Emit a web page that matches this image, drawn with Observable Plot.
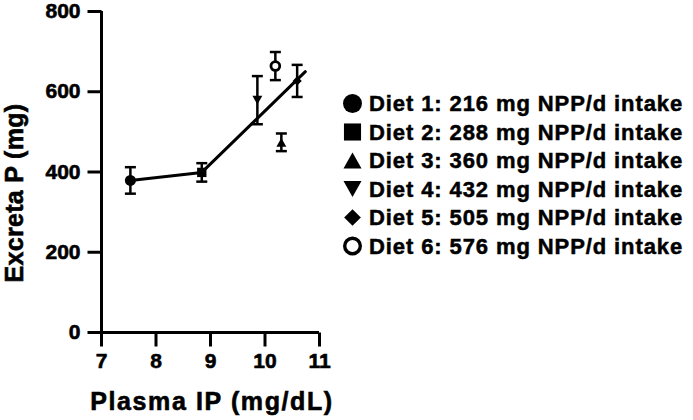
<!DOCTYPE html>
<html>
<head>
<meta charset="utf-8">
<script src="https://cdn.jsdelivr.net/npm/d3@7"></script>
<script src="https://cdn.jsdelivr.net/npm/@observablehq/plot@0.6"></script>
<style>
  html, body { margin: 0; padding: 0; background: #fff; }
  #chart { position: relative; width: 693px; height: 420px; }
</style>
</head>
<body>
<div id="chart"></div>
<script>
// ---- data ----
const dietLabels = [
  "Diet 1: 216 mg NPP/d intake",
  "Diet 2: 288 mg NPP/d intake",
  "Diet 3: 360 mg NPP/d intake",
  "Diet 4: 432 mg NPP/d intake",
  "Diet 5: 505 mg NPP/d intake",
  "Diet 6: 576 mg NPP/d intake"
];
const dietShapes = ["circle", "square", "triangleUp", "triangleDown", "diamond", "openCircle"];
const plasmaIP = [7.53, 8.84, 10.30, 9.86, 10.59, 10.19];
const excretaP = [379, 399, 474, 579, 627, 664];
const excretaSEM = [33, 23, 22, 60, 40, 35];

const fitX = [7.53, 8.84, 10.74];
const fitY = [379, 399, 650];

const xTicks = [7, 8, 9, 10, 11];
const yTicks = [0, 200, 400, 600, 800];

const FONT = "'Liberation Sans', Arial, Helvetica, sans-serif";

// ---- custom symbols ----
const rOf = size => Math.sqrt(size / Math.PI);
const symbols = {
  circle: { draw(ctx, size) { const r = rOf(size); ctx.moveTo(r, 0); ctx.arc(0, 0, r, 0, 2 * Math.PI); } },
  openCircle: { draw(ctx, size) { const r = rOf(size); ctx.moveTo(r, 0); ctx.arc(0, 0, r, 0, 2 * Math.PI); } },
  square: { draw(ctx, size) { const r = rOf(size) * 0.9; ctx.rect(-r, -r, 2 * r, 2 * r); } },
  triangleUp: { draw(ctx, size) { const r = rOf(size); const w = 0.95 * r, h = 0.85 * r; ctx.moveTo(0, -h); ctx.lineTo(w, h); ctx.lineTo(-w, h); ctx.closePath(); } },
  triangleDown: { draw(ctx, size) { const r = rOf(size); const w = 0.95 * r, h = 0.85 * r; ctx.moveTo(0, h); ctx.lineTo(w, -h); ctx.lineTo(-w, -h); ctx.closePath(); } },
  diamond: { draw(ctx, size) { const r = rOf(size) * 0.88; ctx.moveTo(0, -r); ctx.lineTo(r, 0); ctx.lineTo(0, r); ctx.lineTo(-r, 0); ctx.closePath(); } },
  hline: { draw(ctx, size) { const r = rOf(size); ctx.moveTo(-r, 0); ctx.lineTo(r, 0); } },
  tickDown: { draw(ctx, size) { const r = rOf(size); ctx.moveTo(0, 0); ctx.lineTo(0, r); } },
  tickLeft: { draw(ctx, size) { const r = rOf(size); ctx.moveTo(0, 0); ctx.lineTo(-r, 0); } }
};

const rows = dietLabels.map((label, i) => ({
  label, shape: dietShapes[i], ip: plasmaIP[i], p: excretaP[i],
  lo: excretaP[i] - excretaSEM[i], hi: excretaP[i] + excretaSEM[i]
}));
const fit = fitX.map((x, i) => ({ x, y: fitY[i] }));

const dotMarks = rows.map(d => {
  const open = d.shape === "openCircle";
  return Plot.dot([d], {
    x: "ip", y: "p",
    symbol: symbols[d.shape],
    r: open ? 4.4 : (d.shape === "circle" ? 5.5 : 5.2),
    fill: open ? "white" : "black",
    stroke: open ? "black" : "none",
    strokeWidth: open ? 2.8 : 0
  });
});

const plot = Plot.plot({
  width: 693,
  height: 420,
  marginLeft: 101,
  marginRight: 374,
  marginTop: 11,
  marginBottom: 88,
  x: { domain: [7, 11], axis: null },
  y: { domain: [0, 800], axis: null },
  style: { fontFamily: FONT, fontWeight: "bold", fontSize: "21px", color: "#000", background: "white", overflow: "visible" },
  marks: [
    // axis lines
    Plot.ruleX([7], { y1: 0, y2: 800, strokeWidth: 3, stroke: "black" }),
    Plot.ruleY([0], { x1: 7, x2: 11, strokeWidth: 3, stroke: "black" }),
    // x ticks + labels
    Plot.dot(xTicks, { x: d => d, y: () => 0, symbol: symbols.tickDown, r: 14, stroke: "black", strokeWidth: 3, fill: "none" }),
    Plot.text(xTicks, { x: d => d, y: () => 0, text: d => String(d), dy: 21, lineAnchor: "top", fontSize: 21, fontWeight: "bold", fill: "black", stroke: "black", strokeWidth: 0.6, fontFamily: FONT }),
    // y ticks + labels
    Plot.dot(yTicks, { x: () => 7, y: d => d, symbol: symbols.tickLeft, r: 14, stroke: "black", strokeWidth: 3, fill: "none" }),
    Plot.text(yTicks, { x: () => 7, y: d => d, text: d => String(d), dx: -21, textAnchor: "end", lineAnchor: "middle", fontSize: 21, fontWeight: "bold", fill: "black", stroke: "black", strokeWidth: 0.6, fontFamily: FONT }),
    // data
    Plot.line(fit, { x: "x", y: "y", strokeWidth: 3, stroke: "black" }),
    Plot.ruleX(rows, { x: "ip", y1: "lo", y2: "hi", strokeWidth: 2.5, stroke: "black" }),
    Plot.dot(rows, { x: "ip", y: "lo", symbol: symbols.hline, r: 5.5, stroke: "black", strokeWidth: 2.5, fill: "none" }),
    Plot.dot(rows, { x: "ip", y: "hi", symbol: symbols.hline, r: 5.5, stroke: "black", strokeWidth: 2.5, fill: "none" }),
    ...dotMarks
  ]
});

document.getElementById("chart").appendChild(plot);

const svg = d3.select(plot);

// ---- axis titles and legend (text) ----
svg.append("text")
  .attr("transform", "translate(23,193) rotate(-90)")
  .attr("text-anchor", "middle")
  .attr("font-family", FONT).attr("font-weight", "bold").attr("font-size", 25)
  .attr("letter-spacing", "0.3px")
  .attr("fill", "black").attr("stroke", "black").attr("stroke-width", 0.6)
  .text("Excreta P (mg)");

svg.append("text")
  .attr("x", 212).attr("y", 410)
  .attr("text-anchor", "middle")
  .attr("font-family", FONT).attr("font-weight", "bold").attr("font-size", 25)
  .attr("letter-spacing", "1.6px")
  .attr("fill", "black").attr("stroke", "black").attr("stroke-width", 0.6)
  .text("Plasma IP (mg/dL)");

const legend = svg.append("g").attr("text-anchor", "start");
const rowStep = 28.5, row0 = 103.5;
rows.forEach((d, i) => {
  const cy = row0 + i * rowStep;
  const open = d.shape === "openCircle";
  const r = open ? 7.8 : 9.5;
  legend.append("path")
    .attr("transform", `translate(352.5,${cy})`)
    .attr("d", d3.symbol(symbols[d.shape], Math.PI * r * r)())
    .attr("fill", open ? "white" : "black")
    .attr("stroke", open ? "black" : "none")
    .attr("stroke-width", open ? 3.4 : 0);
  legend.append("text")
    .attr("x", 369).attr("y", cy + 7.8)
    .attr("text-anchor", "start")
    .attr("font-family", FONT).attr("font-weight", "bold").attr("font-size", 22)
    .attr("letter-spacing", "0.9px")
    .attr("fill", "black").attr("stroke", "black").attr("stroke-width", 0.5)
    .text(d.label);
});
</script>
</body>
</html>
